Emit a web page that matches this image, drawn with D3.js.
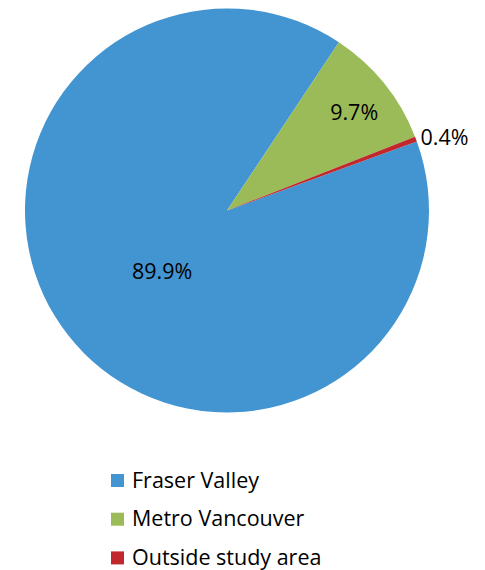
<!DOCTYPE html>
<html>
<head>
<meta charset="utf-8">
<script src="https://cdn.jsdelivr.net/npm/d3@7"></script>
<style>
body{margin:0;background:#fff;}
text{font-family:"Open Sans",sans-serif;fill:#000;}
</style>
</head>
<body>
<div class="container"></div>
<script>
// chart data
var categories = ["Fraser Valley", "Metro Vancouver", "Outside study area"];
var values = [89.9, 9.7, 0.4];
var labels = ["89.9%", "9.7%", "0.4%"];
var colors = ["#4395d1", "#9bbb59", "#c0282d"];

var width = 485, height = 570;
var cx = 227, cy = 210.5, radius = 202;

var svg = d3.select(".container")
	.append("svg")
	.attr("width", width)
	.attr("height", height);

var table = categories.map(function(c, i){ return {name: c, value: values[i], label: labels[i], color: colors[i]}; });

var start = 70 * Math.PI / 180;
var pie = d3.pie()
	.sort(null)
	.value(function(d){ return d.value; })
	.startAngle(start)
	.endAngle(start + 2 * Math.PI);

var arc = d3.arc().innerRadius(0).outerRadius(radius);

var g = svg.append("g").attr("transform", "translate(" + cx + "," + cy + ")");
var arcs = pie(table);

g.selectAll("path.slice")
	.data(arcs)
	.enter()
	.append("path")
	.classed("slice", true)
	.attr("d", arc)
	.attr("fill", function(d){ return d.data.color; });

// label placement: big slices inside, tiny slice just outside the rim
var labelR = [0.44, 0.79, 1.04];
var nudge = [[5, 6], [3, 2], [-3, 1]];
g.selectAll("text.lbl")
	.data(arcs)
	.enter()
	.append("text")
	.classed("lbl", true)
	.attr("font-size", 21.5)
	.attr("dy", "0.35em")
	.attr("text-anchor", function(d, i){ return i == 2 ? "start" : "middle"; })
	.attr("x", function(d, i){
		var a = (d.startAngle + d.endAngle) / 2;
		return Math.sin(a) * radius * labelR[i] + nudge[i][0];
	})
	.attr("y", function(d, i){
		var a = (d.startAngle + d.endAngle) / 2;
		return -Math.cos(a) * radius * labelR[i] + nudge[i][1];
	})
	.text(function(d){ return d.data.label; });

// legend
var legend = svg.append("g").attr("transform", "translate(111,474)");
var row = legend.selectAll("g.item")
	.data(table)
	.enter()
	.append("g")
	.classed("item", true)
	.attr("transform", function(d, i){ return "translate(0," + (i * 38.7) + ")"; });

row.append("rect")
	.attr("width", 13)
	.attr("height", 13)
	.attr("fill", function(d){ return d.color; });

row.append("text")
	.attr("x", 21)
	.attr("y", 13.5)
	.attr("font-size", 21.5)
	.text(function(d){ return d.name; });
</script>
</body>
</html>
